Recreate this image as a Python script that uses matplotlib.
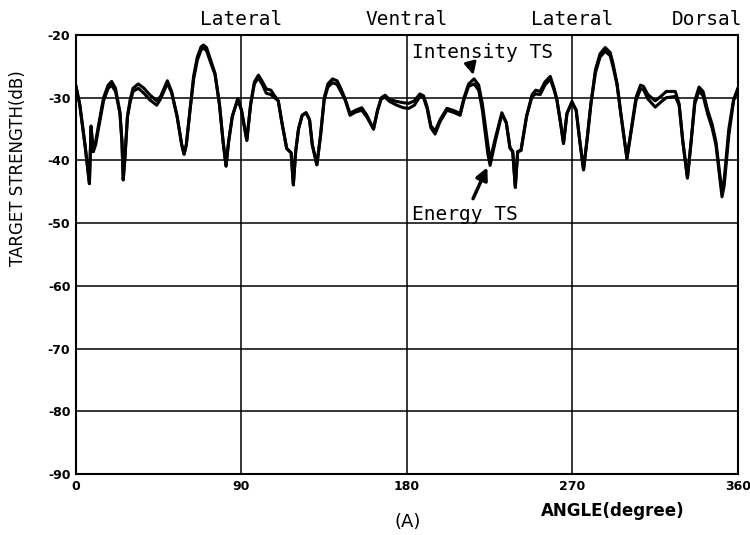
import matplotlib
matplotlib.use("Agg")
import matplotlib.pyplot as plt

# angle (degree) and the two target strength curves (dB)
angle = [0, 2, 4.9, 7.3, 8.2, 9.4, 10.7, 12.5, 15, 17.5, 19.4, 21.5, 23.9, 25, 25.7,
         26.7, 28, 29.4, 31, 33.9, 37, 40, 43.9, 46, 49.7, 52, 55, 57.5, 58.8, 60,
         62, 64, 66, 68, 69.3, 71, 73, 75.6, 78, 80, 81.6, 83, 85, 88, 90, 92.9,
         95, 97, 99.2, 101.5, 103.5, 106, 108, 110, 112, 114.6, 117, 118.2, 119.5,
         121, 123, 125.1, 127, 128.5, 131, 133, 135, 137, 139.5, 142, 144, 146.4,
         149, 152, 155.4, 158, 161.8, 164, 166, 168.1, 170.5, 174.5, 178, 181, 184,
         187, 189, 191, 193, 195.3, 198, 201.7, 205, 208.9, 211, 213.5, 216.5, 219,
         221, 222.5, 224, 225.2, 228, 231.6, 234, 236, 237.5, 238.9, 240.2, 242,
         245, 248, 250, 252.4, 255, 257.9, 260, 261.5, 263.5, 265.1, 267, 269.7,
         272, 274, 276, 278, 280, 282.5, 285, 287.8, 290.5, 292, 294.2, 296.5,
         299.6, 302, 304.5, 307, 308.6, 311, 315, 318, 321, 325.9, 328, 330, 332.5,
         334.5, 336.5, 338.8, 341, 343.5, 345.9, 348, 350, 351.3, 352.5, 355, 357.6,
         360]

intensity_ts = [-28.2, -31, -37.5, -43.7, -34.5, -38.6, -37, -34, -30, -28, -27.4, -28.5,
                -32.3, -37, -43.1, -39.2, -33, -30.4, -28.5, -27.8, -28.5, -29.5, -30.5,
                -29.8, -27.3, -29, -33, -37.5, -39, -37.5, -32, -26.5, -23.5, -21.9,
                -21.6, -22, -23.8, -26.1, -31, -37, -40.9, -37, -33, -30.2, -32, -36.8,
                -31, -27.5, -26.4, -27.5, -28.6, -28.8, -29.7, -30.5, -34, -38.1, -38.8,
                -43.9, -38.5, -35, -32.8, -32.4, -33.5, -37.5, -40.7, -36, -30, -27.8,
                -27, -27.3, -28.5, -30.2, -32.5, -32, -31.6, -32.7, -35, -32, -30, -29.6,
                -30.3, -30.6, -30.8, -30.9, -30.5, -29.4, -29.7, -31.5, -34.5, -35.3,
                -33.5, -31.7, -32, -32.5, -30, -27.8, -27, -28, -31, -34.3, -37.5, -40,
                -36.5, -32.4, -34, -38, -38.6, -44.3, -38.6, -38.4, -33, -29.5, -28.8,
                -29, -27.5, -26.6, -28.5, -30.3, -34, -37.3, -32.5, -30.6, -32, -37,
                -41.5, -36.5, -31, -25.5, -23, -22, -22.8, -24.5, -27.7, -33, -39.7,
                -35, -30, -28, -28.2, -29.5, -30.5, -29.8, -29, -29, -31, -37, -42.8,
                -37, -30.5, -28.3, -29, -32, -34.2, -37, -42, -45, -43, -35, -30.3,
                -28.5]

energy_ts = [-28.2, -31, -37.5, -43.7, -35, -38.6, -37.5, -34.5, -30.5, -28.5, -28, -29,
             -32.5, -37, -43.1, -39.2, -33, -30.8, -29, -28.5, -29.3, -30.3, -31.2,
             -30.2, -27.7, -29.2, -33, -37.5, -39, -37.5, -32, -27, -24, -22.4, -22.1,
             -22.5, -24.2, -26.3, -31, -37, -40.9, -37, -33, -30.2, -32, -36.8, -31,
             -27.8, -26.8, -28, -29.3, -29.5, -30, -30.5, -34, -38.1, -38.8, -43.9,
             -38.5, -35, -32.8, -32.4, -33.5, -37.5, -40.7, -36, -30.3, -28.3, -27.6,
             -27.9, -29, -30.4, -32.8, -32.3, -32, -33, -35, -32, -30.2, -29.9, -30.6,
             -31.2, -31.6, -31.7, -31.2, -29.8, -30, -31.8, -34.8, -35.8, -33.8, -32,
             -32.3, -32.8, -30.3, -28.2, -27.8, -28.8, -32, -35.5, -39, -40.8, -37,
             -32.6, -34, -38, -38.6, -44.3, -38.6, -38.4, -33, -29.8, -29.4, -29.5,
             -28, -27, -28.8, -30.3, -34, -37.3, -32.5, -30.8, -32, -37, -41.5, -36.5,
             -31, -26, -23.5, -22.6, -23.3, -25, -27.9, -33, -39.7, -35.2, -30.5,
             -28.6, -28.7, -30.2, -31.5, -30.7, -30, -29.8, -31.2, -37, -42.8, -37,
             -31, -28.9, -29.7, -32.6, -34.8, -37.5, -42.5, -45.8, -44, -36, -30.5,
             -28.5]

x_ticks = [0, 90, 180, 270, 360]
y_ticks = [-20, -30, -40, -50, -60, -70, -80, -90]
aspects = ['Lateral', 'Ventral', 'Lateral', 'Dorsal']
aspect_pos = [90, 180, 270, 343]

fig = plt.figure(figsize=(7.5, 5.35), dpi=100)
ax = fig.add_axes([0.1013, 0.114, 0.8827, 0.8206])

ax.plot(angle, intensity_ts, color='black', lw=2.2, solid_joinstyle='round')
ax.plot(angle, energy_ts, color='black', lw=2.2, solid_joinstyle='round')

ax.set_xlim(0, 360)
ax.set_ylim(-90, -20)
ax.set_xticks(x_ticks)
ax.set_yticks(y_ticks)
ax.set_xticklabels([str(t) for t in x_ticks], fontweight='bold', fontsize=9)
ax.set_yticklabels([str(t) for t in y_ticks], fontweight='bold', fontsize=9)
ax.tick_params(length=0, pad=4)
ax.grid(True, color='black', lw=1.1)
for s in ax.spines.values():
    s.set_linewidth(1.5)

mono = 'DejaVu Sans Mono'
for name, pos in zip(aspects, aspect_pos):
    ax.text(pos, -19.0, name, ha='center', va='bottom', fontsize=14, family=mono,
            clip_on=False)

ax.text(182.5, -22.8, 'Intensity TS', ha='left', va='center', fontsize=14, family=mono)
ax.text(182.5, -48.6, 'Energy TS', ha='left', va='center', fontsize=14, family=mono)
ax.annotate('', xy=(216.5, -26.8), xytext=(214.5, -24.5),
            arrowprops=dict(arrowstyle='-|>', color='black', lw=2, mutation_scale=18))
ax.annotate('', xy=(224.3, -40.7), xytext=(215.3, -46.5),
            arrowprops=dict(arrowstyle='-|>', color='black', lw=2.5, mutation_scale=18))

fig.text(0.024, 0.685, 'TARGET STRENGTH(dB)', rotation=90, ha='center', va='center',
         fontsize=12)
fig.text(0.817, 0.045, 'ANGLE(degree)', ha='center', va='center', fontsize=12,
         fontweight='bold')
fig.text(0.544, 0.024, '(A)', ha='center', va='center', fontsize=13)

fig.savefig('out.png', dpi=100)
